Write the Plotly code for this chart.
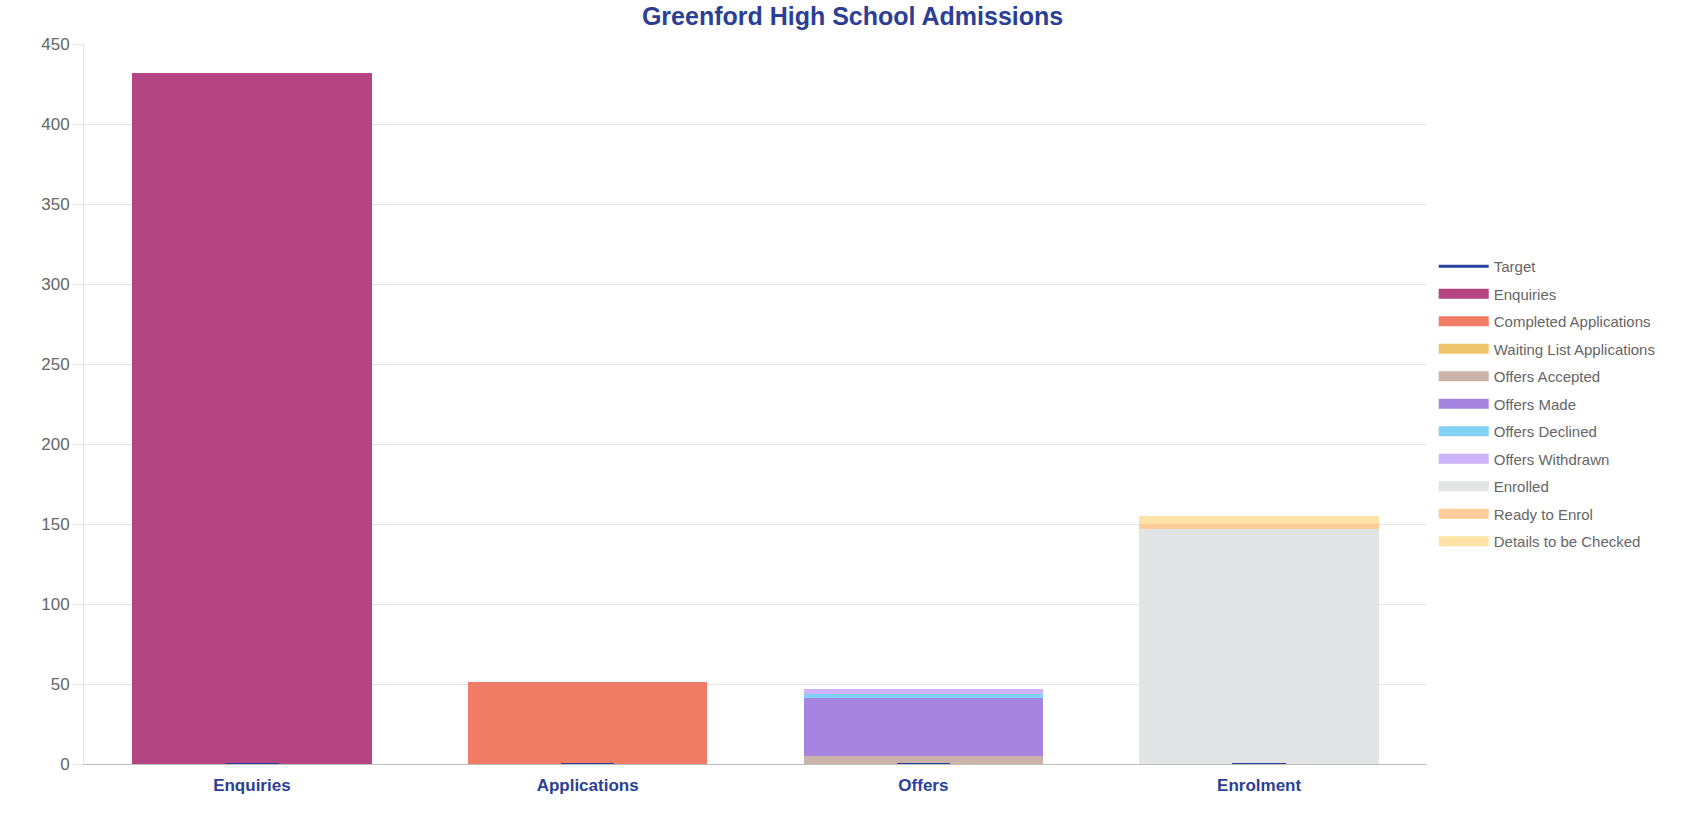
import plotly.graph_objects as go

# stages on the x axis
stages = ['Enquiries', 'Applications', 'Offers', 'Enrolment']

# target per stage (drawn as a flat outline at the bottom)
target = [0, 0, 0, 0]

# stacked series: values per stage (None where the series has no bar)
enquiries = [432, None, None, None]
completed_applications = [None, 51, None, None]
waiting_list_applications = [None, 0, None, None]
offers_accepted = [None, None, 5, None]
offers_made = [None, None, 36, None]
offers_declined = [None, None, 3, None]
offers_withdrawn = [None, None, 3, None]
enrolled = [None, None, None, 147]
ready_to_enrol = [None, None, None, 3]
details_to_be_checked = [None, None, None, 5]

series = [
    ('Enquiries', enquiries, '#b54582'),
    ('Completed Applications', completed_applications, '#f07c65'),
    ('Waiting List Applications', waiting_list_applications, '#eec56a'),
    ('Offers Accepted', offers_accepted, '#cbb3a9'),
    ('Offers Made', offers_made, '#a685e0'),
    ('Offers Declined', offers_declined, '#81d0f5'),
    ('Offers Withdrawn', offers_withdrawn, '#cdb3fb'),
    ('Enrolled', enrolled, '#e3e4e6'),
    ('Ready to Enrol', ready_to_enrol, '#ffcc99'),
    ('Details to be Checked', details_to_be_checked, '#ffe3a6'),
]

blue = '#2b41a0'

data = [go.Bar(
    x=stages, y=target, name='Target',
    xaxis='x', yaxis='y2', width=0.16, showlegend=False,
    marker=dict(color='white', line=dict(color=blue, width=3)),
    hoverinfo='x+y+name'
)]

for name, vals, col in series:
    data.append(go.Bar(
        x=stages, y=vals, name=name, width=0.713, showlegend=False,
        marker=dict(color=col, line=dict(width=0))
    ))

# legend entries drawn as wide boxes, like the original chart
data.append(go.Scatter(
    x=[None], y=[None], name='Target', mode='lines',
    line=dict(color=blue, width=3), legendgroup='Target'
))
for name, vals, col in series:
    data.append(go.Scatter(
        x=[None], y=[None], name=name, mode='lines',
        line=dict(color=col, width=14), legendgroup=name
    ))

layout = go.Layout(
    width=1695, height=834,
    barmode='stack',
    paper_bgcolor='white', plot_bgcolor='white',
    font=dict(family='Liberation Sans, Arial, sans-serif', color='#666666'),
    title=dict(text='<b>Greenford High School Admissions</b>',
               font=dict(size=25, color='#2b3f96'),
               x=0.503, xanchor='center', xref='container',
               y=0.981, yanchor='middle', yref='container'),
    margin=dict(l=84, r=268, t=44, b=70),
    xaxis=dict(
        tickfont=dict(size=17, color='#2b3f96'),
        showgrid=False, showline=True, linecolor='#bdbdbd', linewidth=1,
        ticks='', ticklabelstandoff=6
    ),
    yaxis=dict(
        range=[0, 450], dtick=50, tickfont=dict(size=17, color='#666666'),
        showgrid=True, gridcolor='#e5e5e5', zeroline=False,
        showline=True, linecolor='#e5e5e5',
        ticks='outside', ticklen=10, tickcolor='#e5e5e5'
    ),
    yaxis2=dict(
        range=[0, 450], overlaying='y', visible=False, showgrid=False
    ),
    legend=dict(
        x=1.005, xanchor='left', y=0.5, yanchor='middle',
        font=dict(size=15, color='#666666'),
        traceorder='grouped', itemwidth=50, tracegroupgap=5
    ),
    showlegend=True
)

fig = go.Figure(data=data, layout=layout)
fig.update_xaxes(tickfont_weight='bold')
fig.write_html('out.html', config={'displayModeBar': False},
               post_script="document.body.style.margin='0';")
